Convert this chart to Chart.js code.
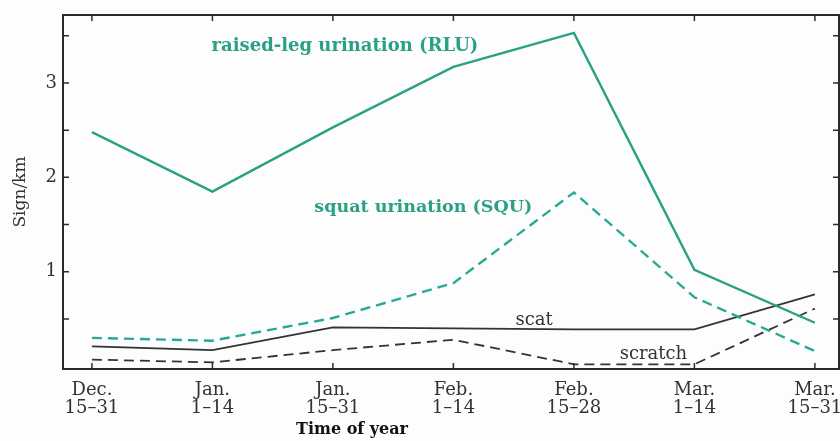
<!DOCTYPE html>
<html>
<head>
<meta charset="utf-8">
<script src="https://cdn.jsdelivr.net/npm/chart.js@4.4.1/dist/chart.umd.min.js"></script>
<style>
  html, body { margin: 0; padding: 0; background: #fdfdfd; }
  #wrap { width: 840px; height: 441px; }
</style>
</head>
<body>
<div id="wrap"><canvas id="chart-sign"></canvas></div>
<script>
// periods along the x axis
var periods = [
  ['Dec.', '15\u201331'],
  ['Jan.', '1\u201314'],
  ['Jan.', '15\u201331'],
  ['Feb.', '1\u201314'],
  ['Feb.', '15\u201328'],
  ['Mar.', '1\u201314'],
  ['Mar.', '15\u201331']
];

// sign per km
var rlu     = [2.48, 1.85, 2.53, 3.17, 3.53, 1.02, 0.46];
var squ     = [0.30, 0.27, 0.51, 0.88, 1.84, 0.73, 0.16];
var scat    = [0.21, 0.17, 0.41, 0.40, 0.39, 0.39, 0.76];
var scratch = [0.07, 0.04, 0.17, 0.28, 0.02, 0.02, 0.61];

var yLabels = ['1', '2', '3'];

var green = '#2aa084';
var ink = '#2b2b2b';
var serif = '"DejaVu Serif", "Liberation Serif", serif';

function pts(arr) {
  return arr.map(function(v, i) { return {x: i, y: v}; });
}

// frame with inward ticks, plus the in-plot labels
var framePlugin = {
  id: 'frame',
  afterDraw: function(chart) {
    var ctx = chart.ctx, a = chart.chartArea;
    var xs = chart.scales.x, ys = chart.scales.y;
    ctx.save();
    ctx.strokeStyle = ink;
    ctx.lineWidth = 2;
    ctx.strokeRect(a.left, a.top, a.right - a.left, a.bottom - a.top);
    ctx.lineWidth = 1.5;
    ctx.beginPath();
    for (var i = 0; i < periods.length; i++) {
      var px = xs.getPixelForValue(i);
      ctx.moveTo(px, a.bottom); ctx.lineTo(px, a.bottom - 6);
      ctx.moveTo(px, a.top); ctx.lineTo(px, a.top + 6);
    }
    for (var v = 0.5; v <= 3.5; v += 0.5) {
      var py = ys.getPixelForValue(v);
      ctx.moveTo(a.left, py); ctx.lineTo(a.left + 6, py);
      ctx.moveTo(a.right, py); ctx.lineTo(a.right - 6, py);
    }
    ctx.stroke();

    function label(text, xi, yv, color, font) {
      ctx.fillStyle = color;
      ctx.font = font;
      ctx.textAlign = 'center';
      ctx.textBaseline = 'middle';
      ctx.fillText(text, xs.getPixelForValue(xi), ys.getPixelForValue(yv));
    }
    label('raised-leg urination (RLU)', 2.1, 3.39, green, 'bold 18px ' + serif);
    label('squat urination (SQU)', 2.75, 1.68, green, 'bold 17.5px ' + serif);
    label('scat', 3.67, 0.49, '#333', '18px ' + serif);
    label('scratch', 4.66, 0.13, '#333', '18px ' + serif);

    ctx.fillStyle = '#111';
    ctx.font = 'bold 16px ' + serif;
    ctx.textAlign = 'center';
    ctx.textBaseline = 'middle';
    ctx.fillText('Time of year', 352, 430);
    ctx.restore();
  }
};

new Chart('chart-sign', {
  type: 'line',
  data: {
    datasets: [
      {label: 'RLU', data: pts(rlu), borderColor: green, borderWidth: 2.4},
      {label: 'SQU', data: pts(squ), borderColor: '#2aa896', borderWidth: 2.4, borderDash: [10, 6]},
      {label: 'scat', data: pts(scat), borderColor: '#333', borderWidth: 1.8},
      {label: 'scratch', data: pts(scratch), borderColor: '#333', borderWidth: 1.8, borderDash: [10, 6]}
    ]
  },
  options: {
    responsive: true,
    maintainAspectRatio: false,
    animation: false,
    layout: {padding: {top: 15, right: 1, left: 0, bottom: 0}},
    elements: {point: {radius: 0}, line: {tension: 0, fill: false}},
    plugins: {legend: {display: false}, tooltip: {enabled: false}},
    scales: {
      x: {
        type: 'linear',
        min: -0.24,
        max: 6.2,
        afterFit: function(s) { s.height = 72; s.paddingLeft = 0; s.paddingRight = 0; },
        afterBuildTicks: function(s) {
          s.ticks = periods.map(function(p, i) { return {value: i}; });
        },
        grid: {display: false, drawTicks: false},
        border: {display: false},
        ticks: {
          autoSkip: false,
          maxRotation: 0,
          padding: 12,
          color: '#333',
          font: {family: serif, size: 18, lineHeight: 1.0},
          callback: function(v) { return periods[v] || ''; }
        }
      },
      y: {
        min: -0.03,
        max: 3.72,
        afterFit: function(s) { s.width = 63; s.paddingTop = 0; s.paddingBottom = 0; },
        afterBuildTicks: function(s) {
          s.ticks = yLabels.map(function(t) { return {value: Number(t)}; });
        },
        grid: {display: false, drawTicks: false},
        border: {display: false},
        title: {
          display: true,
          text: 'Sign/km',
          color: '#333',
          padding: {top: 10, bottom: 0},
          font: {family: serif, size: 17}
        },
        ticks: {
          padding: 6,
          color: '#333',
          font: {family: serif, size: 18},
          callback: function(v) { return String(v); }
        }
      }
    }
  },
  plugins: [framePlugin]
});
</script>
</body>
</html>
